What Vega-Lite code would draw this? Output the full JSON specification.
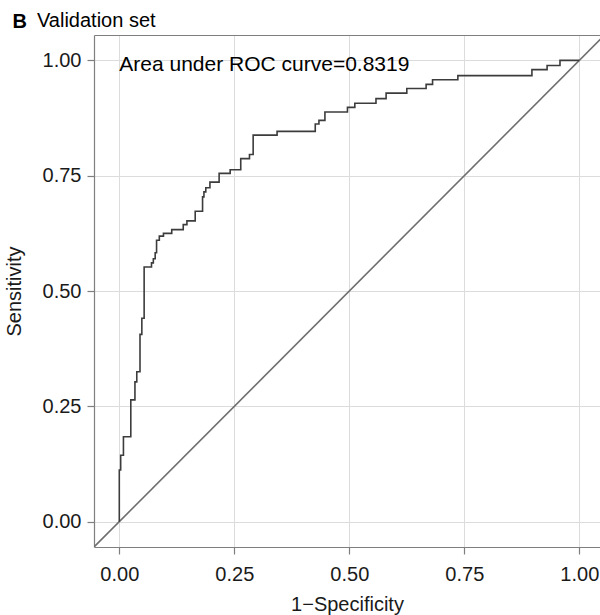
{
  "$schema": "https://vega.github.io/schema/vega-lite/v6.json",
  "width": 506,
  "height": 512,
  "autosize": {"type": "none"},
  "padding": {"left": 94, "top": 35, "right": 0, "bottom": 68},
  "background": "white",
  "title": {
    "text": "Validation set",
    "anchor": "start",
    "frame": "group",
    "dx": -57,
    "offset": -20,
    "fontSize": 20,
    "fontWeight": "normal",
    "color": "#000000",
    "font": "Liberation Sans"
  },
  "config": {
    "view": {"stroke": null},
    "font": "Liberation Sans",
    "axis": {
      "labelFont": "Liberation Sans",
      "labelFontSize": 20,
      "labelColor": "#1a1a1a",
      "labelFlush": false,
      "titleFont": "Liberation Sans",
      "titleFontSize": 20,
      "titleFontWeight": "normal",
      "titleColor": "#1a1a1a",
      "domainColor": "#7f7f7f",
      "domainWidth": 1.2,
      "tickColor": "#7f7f7f",
      "tickSize": 7,
      "tickWidth": 1.2,
      "gridColor": "#dcdcdc",
      "gridWidth": 1
    }
  },
  "resolve": {"axis": {"x": "independent"}},
  "layer": [
    {
      "data": {"values": [{"fpr": -0.1, "tpr": -0.1}, {"fpr": 1.1, "tpr": 1.1}]},
      "mark": {"type": "line", "color": "#6e6e6e", "strokeWidth": 1.6, "clip": true},
      "encoding": {
        "x": {"field": "fpr", "type": "quantitative", "scale": {"domain": [-0.055, 1.045], "nice": false, "zero": false},
              "axis": {"orient": "bottom", "title": "1\u2212Specificity", "values": [0, 0.25, 0.5, 0.75, 1], "format": ".2f", "grid": true, "labelPadding": 10, "titlePadding": 10}},
        "y": {"field": "tpr", "type": "quantitative", "scale": {"domain": [-0.055, 1.055], "nice": false, "zero": false},
              "axis": {"title": "Sensitivity", "values": [0, 0.25, 0.5, 0.75, 1], "format": ".2f", "grid": true, "labelPadding": 6, "titlePadding": 18}}
      }
    },
    {
      "data": {"values": [
        {"fpr": 0, "tpr": 0},
        {"fpr": 0, "tpr": 0.112},
        {"fpr": 0.003, "tpr": 0.144},
        {"fpr": 0.009, "tpr": 0.184},
        {"fpr": 0.025, "tpr": 0.264},
        {"fpr": 0.034, "tpr": 0.303},
        {"fpr": 0.038, "tpr": 0.325},
        {"fpr": 0.045, "tpr": 0.406},
        {"fpr": 0.049, "tpr": 0.441},
        {"fpr": 0.054, "tpr": 0.552},
        {"fpr": 0.070, "tpr": 0.561},
        {"fpr": 0.074, "tpr": 0.570},
        {"fpr": 0.078, "tpr": 0.583},
        {"fpr": 0.081, "tpr": 0.610},
        {"fpr": 0.087, "tpr": 0.619},
        {"fpr": 0.096, "tpr": 0.625},
        {"fpr": 0.114, "tpr": 0.633},
        {"fpr": 0.139, "tpr": 0.644},
        {"fpr": 0.147, "tpr": 0.652},
        {"fpr": 0.165, "tpr": 0.673},
        {"fpr": 0.181, "tpr": 0.704},
        {"fpr": 0.184, "tpr": 0.715},
        {"fpr": 0.188, "tpr": 0.724},
        {"fpr": 0.197, "tpr": 0.736},
        {"fpr": 0.217, "tpr": 0.755},
        {"fpr": 0.241, "tpr": 0.763},
        {"fpr": 0.264, "tpr": 0.787},
        {"fpr": 0.283, "tpr": 0.796},
        {"fpr": 0.291, "tpr": 0.838},
        {"fpr": 0.343, "tpr": 0.846},
        {"fpr": 0.426, "tpr": 0.862},
        {"fpr": 0.434, "tpr": 0.870},
        {"fpr": 0.447, "tpr": 0.888},
        {"fpr": 0.496, "tpr": 0.898},
        {"fpr": 0.512, "tpr": 0.907},
        {"fpr": 0.558, "tpr": 0.917},
        {"fpr": 0.580, "tpr": 0.929},
        {"fpr": 0.625, "tpr": 0.939},
        {"fpr": 0.667, "tpr": 0.948},
        {"fpr": 0.681, "tpr": 0.958},
        {"fpr": 0.736, "tpr": 0.967},
        {"fpr": 0.897, "tpr": 0.980},
        {"fpr": 0.930, "tpr": 0.989},
        {"fpr": 0.958, "tpr": 1.0},
        {"fpr": 1.0, "tpr": 1.0}
      ]},
      "mark": {"type": "line", "interpolate": "step-after", "color": "#3c3c3c", "strokeWidth": 1.6},
      "encoding": {
        "x": {"field": "fpr", "type": "quantitative",
              "axis": {"orient": "top", "labels": false, "ticks": false, "grid": false, "domain": true,
                       "title": "B", "titleFontWeight": "bold", "titleColor": "#000000", "titleAngle": 0,
                       "titleAnchor": "start", "titleAlign": "left", "titleBaseline": "alphabetic",
                       "titleX": -82, "titleY": -8}},
        "y": {"field": "tpr", "type": "quantitative"}
      }
    },
    {
      "data": {"values": [{"fpr": 0, "tpr": 0.99, "label": "Area under ROC curve=0.8319"}]},
      "mark": {"type": "text", "align": "left", "baseline": "middle", "fontSize": 21, "font": "Liberation Sans", "color": "#000000"},
      "encoding": {
        "x": {"field": "fpr", "type": "quantitative", "axis": null},
        "y": {"field": "tpr", "type": "quantitative"},
        "text": {"field": "label"}
      }
    }
  ]
}
